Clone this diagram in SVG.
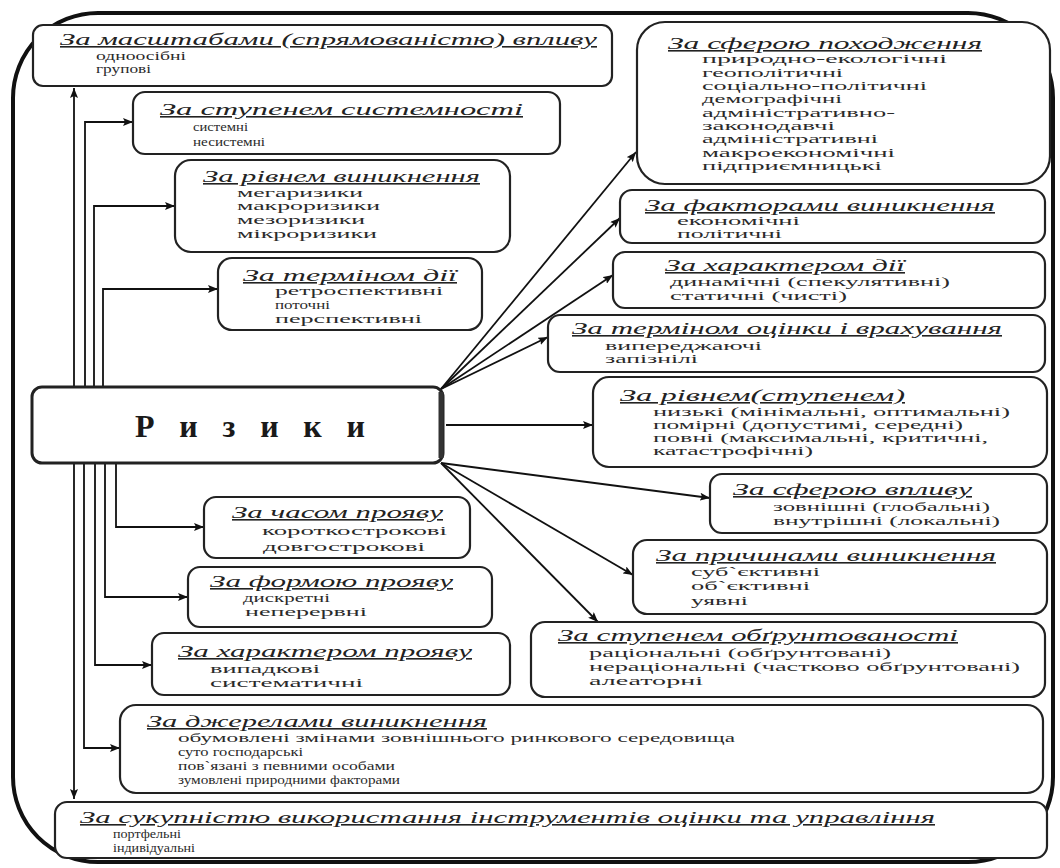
<svg xmlns="http://www.w3.org/2000/svg" width="1060" height="868" viewBox="0 0 1060 868">
<defs>
<marker id="ah" viewBox="0 0 10 8" refX="10" refY="4" markerWidth="10" markerHeight="8" markerUnits="userSpaceOnUse" orient="auto-start-reverse">
<path d="M0,0 L10,4 L0,8 L2,4 Z" fill="#111"/>
</marker>
</defs>
<style>
.bx{fill:#fff;stroke:#222;stroke-width:2.2}
.t{font-family:"Liberation Serif",serif;font-style:italic;font-size:16px;fill:#222;text-decoration:underline}
.i{font-family:"Liberation Serif",serif;font-size:13px;fill:#2a2a2a}
.c{fill:none;stroke:#111;stroke-width:1.8}
</style>
<rect width="1060" height="868" fill="#fff"/>
<rect id="frame" x="13" y="13" width="1040" height="849" rx="85" ry="85" fill="none" stroke="#111" stroke-width="4"/>

<g id="connectors">
<path class="c" d="M74,88 V799" stroke-width="2.4" marker-start="url(#ah)" marker-end="url(#ah)"/>
<path class="c" d="M85,387 V122 H133" marker-end="url(#ah)"/>
<path class="c" d="M94,387 V206 H175" marker-end="url(#ah)"/>
<path class="c" d="M103,387 V289 H218" marker-end="url(#ah)"/>
<path class="c" d="M84,463 V748 H120" marker-end="url(#ah)"/>
<path class="c" d="M95,463 V665 H152" marker-end="url(#ah)"/>
<path class="c" d="M105,463 V597 H188" marker-end="url(#ah)"/>
<path class="c" d="M116,463 V527 H204" marker-end="url(#ah)"/>
<path class="c" d="M441,389 L636,152" marker-end="url(#ah)"/>
<path class="c" d="M441,389 L620,218" marker-end="url(#ah)"/>
<path class="c" d="M441,389 L613,275" marker-end="url(#ah)"/>
<path class="c" d="M441,389 L548,337" marker-end="url(#ah)"/>
<path class="c" d="M446,425 L593,425" marker-end="url(#ah)"/>
<path class="c" d="M441,463 L710,498" marker-end="url(#ah)"/>
<path class="c" d="M441,463 L633,575" marker-end="url(#ah)"/>
<path class="c" d="M441,463 L598,622" marker-end="url(#ah)"/>
</g>

<g id="n-masshtab">
<rect class="bx" x="33" y="25" width="579" height="61" rx="10"/>
<text class="t" x="60" y="45" textLength="537" lengthAdjust="spacingAndGlyphs">За масштабами (спрямованістю) впливу</text>
<text class="i" x="96" y="60" textLength="90" lengthAdjust="spacingAndGlyphs">одноосібні</text>
<text class="i" x="96" y="73" textLength="55" lengthAdjust="spacingAndGlyphs">групові</text>
</g>

<g id="n-systemn">
<rect class="bx" x="133" y="92" width="427" height="62" rx="12"/>
<text class="t" x="160" y="115" textLength="363" lengthAdjust="spacingAndGlyphs">За ступенем системності</text>
<text class="i" x="193" y="131" textLength="55" lengthAdjust="spacingAndGlyphs">системні</text>
<text class="i" x="193" y="146" textLength="72" lengthAdjust="spacingAndGlyphs">несистемні</text>
</g>

<g id="n-riven">
<rect class="bx" x="175" y="160" width="335" height="92" rx="16"/>
<text class="t" x="203" y="182" textLength="277" lengthAdjust="spacingAndGlyphs">За рівнем виникнення</text>
<text class="i" x="237" y="197" textLength="126" lengthAdjust="spacingAndGlyphs">мегаризики</text>
<text class="i" x="237" y="210" textLength="143" lengthAdjust="spacingAndGlyphs">макроризики</text>
<text class="i" x="237" y="224" textLength="128" lengthAdjust="spacingAndGlyphs">мезоризики</text>
<text class="i" x="237" y="238" textLength="140" lengthAdjust="spacingAndGlyphs">мікроризики</text>
</g>

<g id="n-termin">
<rect class="bx" x="218" y="258" width="264" height="72" rx="14"/>
<text class="t" x="243" y="281" textLength="214" lengthAdjust="spacingAndGlyphs">За терміном дії</text>
<text class="i" x="275" y="295" textLength="168" lengthAdjust="spacingAndGlyphs">ретроспективні</text>
<text class="i" x="275" y="309" textLength="55" lengthAdjust="spacingAndGlyphs">поточні</text>
<text class="i" x="275" y="323" textLength="147" lengthAdjust="spacingAndGlyphs">перспективні</text>
</g>

<g id="n-ryzyky">
<rect x="32" y="387" width="411" height="76" rx="10" fill="#fff" stroke="#222" stroke-width="3"/>
<line x1="441" y1="392" x2="441" y2="458" stroke="#333" stroke-width="5"/>
<text x="135" y="437" textLength="230" lengthAdjust="spacing" font-family="Liberation Serif, serif" font-weight="bold" font-size="32" fill="#1a1a1a">Р и з и к и</text>
</g>

<g id="n-chas">
<rect class="bx" x="204" y="497" width="266" height="61" rx="12"/>
<text class="t" x="232" y="518" textLength="211" lengthAdjust="spacingAndGlyphs">За часом прояву</text>
<text class="i" x="262" y="535" textLength="185" lengthAdjust="spacingAndGlyphs">короткострокові</text>
<text class="i" x="263" y="551" textLength="162" lengthAdjust="spacingAndGlyphs">довгострокові</text>
</g>

<g id="n-forma">
<rect class="bx" x="188" y="567" width="304" height="60" rx="12"/>
<text class="t" x="210" y="587" textLength="243" lengthAdjust="spacingAndGlyphs">За формою прояву</text>
<text class="i" x="243" y="602" textLength="87" lengthAdjust="spacingAndGlyphs">дискретні</text>
<text class="i" x="245" y="616" textLength="122" lengthAdjust="spacingAndGlyphs">неперервні</text>
</g>

<g id="n-kharakter-proyavu">
<rect class="bx" x="152" y="633" width="358" height="62" rx="12"/>
<text class="t" x="178" y="657" textLength="294" lengthAdjust="spacingAndGlyphs">За характером прояву</text>
<text class="i" x="210" y="673" textLength="110" lengthAdjust="spacingAndGlyphs">випадкові</text>
<text class="i" x="210" y="687" textLength="153" lengthAdjust="spacingAndGlyphs">систематичні</text>
</g>

<g id="n-dzherela">
<rect class="bx" x="120" y="705" width="923" height="88" rx="16"/>
<text class="t" x="147" y="727" textLength="340" lengthAdjust="spacingAndGlyphs">За джерелами виникнення</text>
<text class="i" x="178" y="742" textLength="557" lengthAdjust="spacingAndGlyphs">обумовлені змінами зовнішнього ринкового середовища</text>
<text class="i" x="178" y="756" textLength="125" lengthAdjust="spacingAndGlyphs">суто господарські</text>
<text class="i" x="178" y="770" textLength="217" lengthAdjust="spacingAndGlyphs">пов`язані з певними особами</text>
<text class="i" x="178" y="784" textLength="222" lengthAdjust="spacingAndGlyphs">зумовлені природними факторами</text>
</g>

<g id="n-sukupnist">
<rect class="bx" x="55" y="802" width="992" height="56" rx="12"/>
<text class="t" x="80" y="823" textLength="855" lengthAdjust="spacingAndGlyphs">За сукупністю використання інструментів оцінки та управління</text>
<text class="i" x="113" y="838" textLength="68" lengthAdjust="spacingAndGlyphs">портфельні</text>
<text class="i" x="113" y="852" textLength="82" lengthAdjust="spacingAndGlyphs">індивідуальні</text>
</g>

<g id="n-sfera-pokhodzhennya">
<rect class="bx" x="637" y="22" width="413" height="162" rx="28"/>
<text class="t" x="668" y="49" textLength="314" lengthAdjust="spacingAndGlyphs">За сферою походження</text>
<text class="i" x="702" y="63" textLength="245" lengthAdjust="spacingAndGlyphs">природно-екологічні</text>
<text class="i" x="702" y="77" textLength="141" lengthAdjust="spacingAndGlyphs">геополітичні</text>
<text class="i" x="702" y="90" textLength="225" lengthAdjust="spacingAndGlyphs">соціально-політичні</text>
<text class="i" x="702" y="103" textLength="140" lengthAdjust="spacingAndGlyphs">демографічні</text>
<text class="i" x="702" y="117" textLength="193" lengthAdjust="spacingAndGlyphs">адміністративно-</text>
<text class="i" x="702" y="130" textLength="133" lengthAdjust="spacingAndGlyphs">законодавчі</text>
<text class="i" x="702" y="143" textLength="176" lengthAdjust="spacingAndGlyphs">адміністративні</text>
<text class="i" x="702" y="157" textLength="193" lengthAdjust="spacingAndGlyphs">макроекономічні</text>
<text class="i" x="702" y="170" textLength="180" lengthAdjust="spacingAndGlyphs">підприємницькі</text>
</g>

<g id="n-faktory">
<rect class="bx" x="620" y="190" width="425" height="53" rx="12"/>
<text class="t" x="645" y="211" textLength="350" lengthAdjust="spacingAndGlyphs">За факторами виникнення</text>
<text class="i" x="677" y="225" textLength="123" lengthAdjust="spacingAndGlyphs">економічні</text>
<text class="i" x="677" y="238" textLength="105" lengthAdjust="spacingAndGlyphs">політичні</text>
</g>

<g id="n-kharakter-dii">
<rect class="bx" x="613" y="252" width="432" height="56" rx="12"/>
<text class="t" x="665" y="271" textLength="240" lengthAdjust="spacingAndGlyphs">За характером дії</text>
<text class="i" x="670" y="286" textLength="280" lengthAdjust="spacingAndGlyphs">динамічні (спекулятивні)</text>
<text class="i" x="670" y="300" textLength="177" lengthAdjust="spacingAndGlyphs">статичні (чисті)</text>
</g>

<g id="n-termin-otsinky">
<rect class="bx" x="548" y="315" width="497" height="57" rx="12"/>
<text class="t" x="572" y="334" textLength="430" lengthAdjust="spacingAndGlyphs">За терміном оцінки і врахування</text>
<text class="i" x="605" y="350" textLength="157" lengthAdjust="spacingAndGlyphs">випереджаючі</text>
<text class="i" x="605" y="363" textLength="93" lengthAdjust="spacingAndGlyphs">запізнілі</text>
</g>

<g id="n-riven-stupin">
<rect class="bx" x="593" y="377" width="454" height="90" rx="16"/>
<text class="t" x="620" y="401" textLength="285" lengthAdjust="spacingAndGlyphs">За рівнем(ступенем)</text>
<text class="i" x="653" y="416" textLength="357" lengthAdjust="spacingAndGlyphs">низькі (мінімальні, оптимальні)</text>
<text class="i" x="653" y="429" textLength="310" lengthAdjust="spacingAndGlyphs">помірні (допустимі, середні)</text>
<text class="i" x="653" y="442" textLength="335" lengthAdjust="spacingAndGlyphs">повні (максимальні, критичні,</text>
<text class="i" x="653" y="455" textLength="160" lengthAdjust="spacingAndGlyphs">катастрофічні)</text>
</g>

<g id="n-sfera-vplyvu">
<rect class="bx" x="710" y="474" width="337" height="59" rx="12"/>
<text class="t" x="733" y="495" textLength="239" lengthAdjust="spacingAndGlyphs">За сферою впливу</text>
<text class="i" x="773" y="511" textLength="217" lengthAdjust="spacingAndGlyphs">зовнішні (глобальні)</text>
<text class="i" x="773" y="525" textLength="227" lengthAdjust="spacingAndGlyphs">внутрішні (локальні)</text>
</g>

<g id="n-prychyny">
<rect class="bx" x="633" y="540" width="414" height="74" rx="14"/>
<text class="t" x="656" y="561" textLength="340" lengthAdjust="spacingAndGlyphs">За причинами виникнення</text>
<text class="i" x="691" y="576" textLength="129" lengthAdjust="spacingAndGlyphs">суб`єктивні</text>
<text class="i" x="691" y="590" textLength="119" lengthAdjust="spacingAndGlyphs">об`єктивні</text>
<text class="i" x="691" y="605" textLength="57" lengthAdjust="spacingAndGlyphs">уявні</text>
</g>

<g id="n-obgruntovanist">
<rect class="bx" x="531" y="622" width="514" height="75" rx="14"/>
<text class="t" x="558" y="641" textLength="400" lengthAdjust="spacingAndGlyphs">За ступенем обґрунтованості</text>
<text class="i" x="589" y="657" textLength="302" lengthAdjust="spacingAndGlyphs">раціональні (обґрунтовані)</text>
<text class="i" x="589" y="671" textLength="431" lengthAdjust="spacingAndGlyphs">нераціональні (частково обґрунтовані)</text>
<text class="i" x="589" y="685" textLength="114" lengthAdjust="spacingAndGlyphs">алеаторні</text>
</g>
</svg>
